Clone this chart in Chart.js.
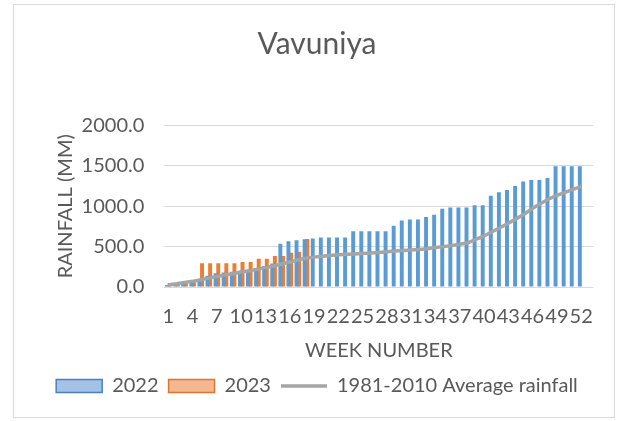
<!DOCTYPE html>
<html>
<head>
<meta charset="utf-8">
<script src="https://cdn.jsdelivr.net/npm/chart.js@4"></script>
<style>
html,body{margin:0;padding:0;background:#fff;}
#wrap{width:624px;height:421px;position:relative;}
</style>
</head>
<body>
<div id="wrap"><canvas id="c" width="624" height="421"></canvas></div>
<script>
// ---- data ----
const weeks = ['1','2','3','4','5','6','7','8','9','10','11','12','13','14','15','16','17','18','19','20',
  '21','22','23','24','25','26','27','28','29','30','31','32','33','34','35','36','37','38','39','40',
  '41','42','43','44','45','46','47','48','49','50','51','52','53'];
const rain2022 = [25,45,60,75,100,140,170,180,190,200,215,235,260,290,537,568,580,590,600,613,
  613,613,613,689,689,689,689,689,760,824,837,837,866,894,970,984,984,984,1012,1012,
  1130,1173,1202,1250,1308,1325,1325,1351,1495,1495,1495,1495,null];
const rain2023 = [50,35,55,75,295,295,295,295,295,310,310,350,350,385,385,425,435,595];
const avgRain = [25,40,55,70,90,110,130,150,165,185,200,220,240,260,285,310,335,355,370,380,
  390,398,405,410,415,420,428,436,445,452,458,465,475,488,500,515,530,548,590,632,
  685,737,790,847,905,975,1035,1090,1135,1172,1210,1245];
const yTicks = [0, 500, 1000, 1500, 2000];
const seriesNames = ['2022', '2023', '1981-2010 Average rainfall'];
const chartTitle = 'Vavuniya';
const xTitle = 'WEEK NUMBER';
const yTitle = 'RAINFALL (MM)';

// ---- styles ----
const FONT = 'Lato';
const TXT = '#595959';
const legendFill = ['#a3c2e6', '#f5b692', '#a5a5a5'];
const legendStroke = ['#4a80c0', '#e0742b', '#a5a5a5'];

const frame = {
  id: 'frame',
  beforeDraw(chart) {
    const c = chart.ctx;
    c.save();
    c.fillStyle = '#ffffff';
    c.fillRect(0, 0, chart.width, chart.height);
    c.strokeStyle = '#d9d9d9';
    c.lineWidth = 1;
    c.strokeRect(13.5, 4.5, 601, 413);
    c.restore();
  }
};

new Chart(document.getElementById('c'), {
  type: 'bar',
  data: {
    labels: weeks,
    datasets: [
      { type: 'bar', label: seriesNames[0], data: rain2022, backgroundColor: '#5b9bd5', borderWidth: 0, order: 1,
        categoryPercentage: 0.65, barPercentage: 1.5 },
      { type: 'bar', label: seriesNames[1], data: rain2023, backgroundColor: '#ed7d31', borderWidth: 0, order: 2,
        categoryPercentage: 0.65, barPercentage: 1.5 },
      { type: 'line', label: seriesNames[2], data: avgRain, borderColor: '#a5a5a5', backgroundColor: '#a5a5a5',
        borderWidth: 3.5, pointRadius: 0, tension: 0, order: 0 }
    ]
  },
  options: {
    responsive: false,
    animation: false,
    devicePixelRatio: 1,
    layout: { padding: { top: 5, left: 40.7, right: 30.7, bottom: 15 } },
    plugins: {
      tooltip: { enabled: false },
      title: {
        display: true, text: chartTitle, color: TXT,
        font: { family: FONT, size: 30, weight: 'normal' },
        padding: { top: 21, bottom: 63.5 }
      },
      legend: {
        position: 'bottom',
        labels: {
          usePointStyle: true, pointStyleWidth: 46, boxHeight: 13, padding: 10,
          color: TXT, font: { family: FONT, size: 20 },
          generateLabels(chart) {
            return chart.data.datasets.map((ds, i) => ({
              text: ds.label, datasetIndex: i, hidden: false,
              fillStyle: legendFill[i], strokeStyle: legendStroke[i],
              lineWidth: i === 2 ? 3.5 : 1.5,
              pointStyle: i === 2 ? 'line' : 'rect',
              fontColor: TXT
            }));
          }
        }
      }
    },
    scales: {
      x: {
        grid: { display: false, drawTicks: false },
        border: { display: false },
        ticks: {
          autoSkip: false, maxRotation: 0, minRotation: 0, padding: 17.3,
          color: TXT, font: { family: FONT, size: 20 },
          callback: (v, i) => (i % 3 === 0 ? weeks[i] : '')
        },
        title: { display: true, text: xTitle, color: TXT, font: { family: FONT, size: 20 }, padding: { top: 0, bottom: 3.3 } },
        afterFit(s) { s.height = 79; }
      },
      y: {
        min: yTicks[0], max: yTicks[yTicks.length - 1],
        grid: { color: '#d9d9d9', lineWidth: 1, drawTicks: false },
        border: { display: false },
        afterBuildTicks(s) { s.ticks = yTicks.map(v => ({ value: v })); },
        ticks: {
          padding: 20, color: TXT, font: { family: FONT, size: 20 },
          callback: v => Number(v).toFixed(1)
        },
        title: { display: true, text: yTitle, color: TXT, font: { family: FONT, size: 20 }, padding: { top: 12.6, bottom: 0 } },
        afterFit(s) { s.width = 123.6; }
      }
    }
  },
  plugins: [frame]
});
</script>
</body>
</html>
